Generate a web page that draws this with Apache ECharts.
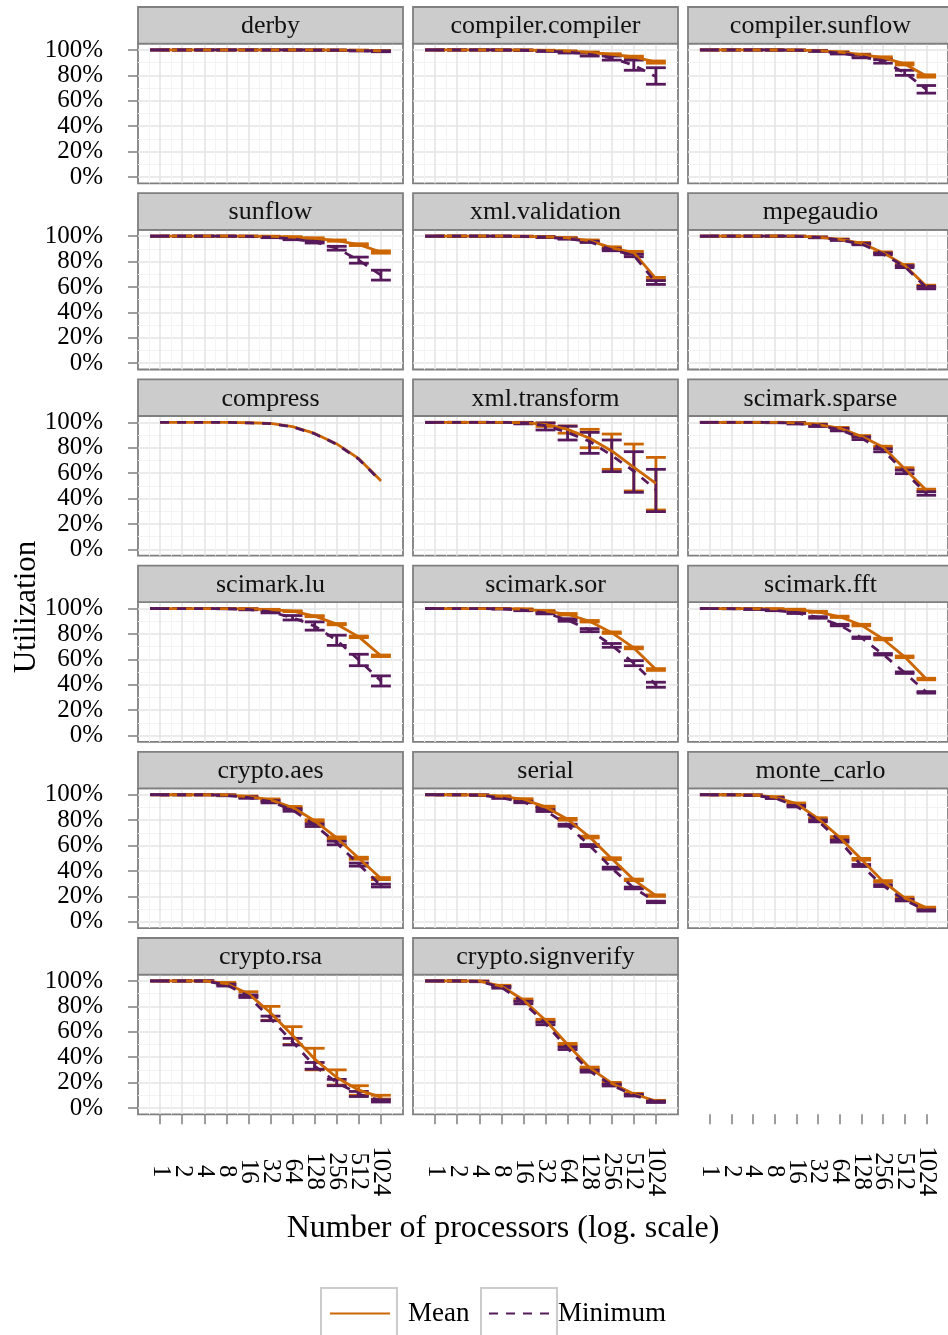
<!DOCTYPE html>
<html><head><meta charset="utf-8">
<script src="https://cdn.jsdelivr.net/npm/echarts@6/dist/echarts.min.js"></script>
<style>html,body{margin:0;padding:0;background:#fff}#c{width:948px;height:1335px}</style>
</head><body><div id="c"></div>
<script>
const benchmarks = ['derby','compiler.compiler','compiler.sunflow','sunflow','xml.validation','mpegaudio','compress','xml.transform','scimark.sparse','scimark.lu','scimark.sor','scimark.fft','crypto.aes','serial','monte_carlo','crypto.rsa','crypto.signverify'];
const processors = [1,2,4,8,16,32,64,128,256,512,1024];
const yTicks = [0,20,40,60,80,100];
const yMinorTicks = [10,30,50,70,90];

const meanValues = [
[100,100,100,100,100,100,100,100,99.9,99.7,99.3],
[100,100,100,100,99.9,99.6,99.0,98.0,96.5,94.5,90.5],
[100,100,100,100,99.9,99.5,98.3,96.3,94.0,89.0,79.5],
[100,100,100,100,100,99.8,99.3,98.3,96.5,93.3,87.5],
[100,100,100,100,99.9,99.5,98.6,96.5,90.8,87.0,66.5],
[100,100,100,100,100,99.2,97.5,94.5,87.0,77.0,60.5],
[100,100,100,100,99.7,99.2,96.6,91.3,83.0,71.4,54.0],
[100,100,100,100,99.8,98.4,94.5,87.5,77.5,64.5,52.0],
[100,100,100,100,99.6,98.3,95.5,89.0,80.5,63.5,46.5],
[100,100,100,100,99.8,99.2,97.9,94.0,87.7,77.7,62.8],
[100,100,100,100,99.5,98.0,95.5,90.0,81.0,69.0,52.0],
[100,100,99.9,99.7,99.2,97.4,93.5,87.0,76.0,62.0,44.5],
[100,100,100,99.8,98.5,96.0,90.0,79.5,66.0,50.0,34.0],
[100,100,99.8,98.7,96.4,90.4,80.7,66.7,49.7,33.0,20.6],
[100,100,99.8,98.2,93.0,81.3,66.4,49.2,31.8,18.8,11.0],
[100,100,100,98.0,90.0,75.0,57.0,38.5,24.0,14.0,8.5],
[100,100,99.8,96.0,85.0,69.0,50.0,31.5,19.5,11.0,5.5]
];
const N = null;
const meanLower = [
[100,100,100,100,100,100,99.9,99.8,99.7,99.5,99.0],
[100,100,100,100,99.8,99.4,98.7,97.6,96.0,93.8,89.6],
[100,100,100,100,99.8,99.3,98.0,95.9,93.4,88.2,78.6],
[100,100,100,100,99.9,99.6,99.0,97.9,96.0,92.6,86.6],
[100,100,100,100,99.8,99.3,98.3,96.0,90.0,86.0,65.5],
[100,100,100,100,99.9,99.0,97.2,94.0,86.4,76.3,59.6],
[N,N,N,N,N,N,N,N,N,N,N],
[100,100,100,99.9,99.3,96.8,91.5,80.0,63.0,46.0,31.0],
[100,100,100,99.9,99.3,97.8,95.0,88.4,79.8,62.7,45.6],
[100,100,100,100,99.7,99.0,97.6,93.6,87.2,77.1,62.2],
[100,100,100,99.9,99.2,97.5,94.9,89.4,80.4,68.3,51.3],
[100,100,99.8,99.5,98.9,97.0,93.0,86.4,75.4,61.4,43.9],
[100,100,100,99.6,98.0,95.3,89.2,78.7,65.2,49.2,33.2],
[100,100,99.7,98.3,95.9,89.8,80.0,66.0,49.0,32.4,20.0],
[100,100,99.7,97.9,92.5,80.7,65.7,48.5,31.2,18.2,10.5],
[100,100,100,97.0,88.0,69.0,50.0,30.0,18.0,10.0,7.0],
[100,100,99.6,95.4,84.2,68.2,49.2,30.8,18.9,10.5,5.0]
];
const meanUpper = [
[100,100,100,100,100,100,100,100,100,99.9,99.6],
[100,100,100,100,100,99.8,99.3,98.4,97.0,95.1,91.3],
[100,100,100,100,100,99.7,98.6,96.7,94.6,89.8,80.4],
[100,100,100,100,100,100,99.6,98.7,97.0,94.0,88.4],
[100,100,100,100,100,99.7,98.9,97.0,91.6,88.0,67.5],
[100,100,100,100,100,99.4,97.8,95.0,87.6,77.7,61.4],
[N,N,N,N,N,N,N,N,N,N,N],
[100,100,100,100,100,99.5,97.1,94.5,90.8,82.9,72.4],
[100,100,100,100,99.9,98.8,96.0,89.6,81.2,64.3,47.4],
[100,100,100,100,99.9,99.4,98.2,94.4,88.2,78.3,63.4],
[100,100,100,100,99.8,98.5,96.1,90.6,81.6,69.7,52.7],
[100,100,100,99.9,99.5,97.8,94.0,87.6,76.6,62.6,45.1],
[100,100,100,100,99.0,96.7,90.8,80.3,66.8,50.8,34.8],
[100,100,99.9,99.1,96.9,91.0,81.4,67.4,50.4,33.6,21.2],
[100,100,99.9,98.5,93.5,81.9,67.1,49.9,32.4,19.4,11.5],
[100,100,100,98.8,91.5,80.0,64.0,47.0,30.0,17.5,10.0],
[100,100,100,96.6,85.8,69.8,50.8,32.2,20.1,11.5,6.0]
];
const minValues = [
[100,100,100,100,100,100,100,99.9,99.8,99.5,99.0],
[100,100,100,100,99.7,99.2,98.3,96.5,93.5,88.0,79.0],
[100,100,100,100,99.8,99.2,97.5,95.0,91.0,82.0,69.0],
[100,100,100,100,99.8,99.2,97.8,95.5,90.5,81.0,69.3],
[100,100,100,100,99.8,99.2,98.0,95.5,89.3,84.8,63.5],
[100,100,100,100,99.9,99.0,97.0,93.8,86.0,76.0,59.5],
[100,100,100,100,99.6,99.0,96.4,91.0,82.7,71.0,53.6],
[100,100,100,100,99.6,97.5,92.0,85.0,74.0,61.5,47.0],
[100,100,100,99.9,99.2,97.5,94.3,87.5,78.0,61.0,44.0],
[100,100,100,99.9,99.3,97.4,92.8,86.2,75.0,59.5,43.0],
[100,100,100,99.8,98.7,96.5,91.0,83.0,71.0,57.0,40.0],
[100,99.9,99.5,98.7,96.6,93.0,87.0,77.0,64.0,49.5,34.0],
[100,100,100,99.5,97.8,94.5,88.0,76.0,62.0,45.0,28.5],
[100,100,99.7,97.6,94.3,87.5,76.0,60.0,42.2,26.6,15.6],
[100,100,99.6,97.4,91.0,79.4,63.5,44.3,28.4,17.0,8.9],
[100,100,100,97.0,88.0,70.5,52.0,33.0,20.0,11.0,5.6],
[100,100,99.6,95.0,83.0,66.5,47.0,29.0,18.0,10.0,4.8]
];
const minLower = [
[100,100,100,100,100,99.9,99.9,99.8,99.6,99.2,98.6],
[100,100,100,99.9,99.5,98.8,97.6,95.2,92.0,84.0,73.0],
[100,100,100,99.9,99.6,98.8,96.8,93.8,89.6,80.0,66.0],
[100,100,100,99.9,99.6,98.8,97.2,94.6,89.0,78.7,65.4],
[100,100,100,99.9,99.6,98.9,97.6,95.0,88.5,83.8,62.0],
[100,100,100,100,99.8,98.7,96.6,93.2,85.3,75.2,58.5],
[N,N,N,N,N,N,N,N,N,N,N],
[100,100,100,99.9,98.8,94.0,86.1,75.6,61.2,44.9,29.7],
[100,100,100,99.7,98.7,96.7,93.3,86.4,76.8,59.6,42.6],
[100,100,100,99.8,99.0,96.6,91.0,83.0,71.0,55.0,39.0],
[100,100,100,99.6,98.3,95.8,90.0,81.8,69.5,55.0,38.0],
[100,99.8,99.3,98.3,96.1,92.4,86.4,76.4,63.4,48.9,33.4],
[100,100,100,99.2,97.2,93.6,87.0,75.0,60.6,43.8,27.4],
[100,100,99.5,97.1,93.7,86.8,75.2,59.2,41.4,25.9,15.0],
[100,100,99.4,97.0,90.4,78.7,62.7,43.5,27.7,16.4,8.4],
[100,100,100,96.0,87.0,68.7,49.6,30.5,17.5,9.0,4.7],
[100,100,99.4,94.3,82.0,65.5,46.0,28.2,17.3,9.4,4.3]
];
const minUpper = [
[100,100,100,100,100,100,100,100,99.9,99.7,99.3],
[100,100,100,100,99.9,99.6,98.9,97.6,95.2,92.0,86.0],
[100,100,100,100,99.9,99.5,98.1,96.0,92.4,84.0,72.0],
[100,100,100,100,100,99.6,98.4,96.4,92.0,83.5,73.2],
[100,100,100,100,99.9,99.5,98.4,96.0,90.1,85.8,65.0],
[100,100,100,100,100,99.3,97.4,94.4,86.7,76.8,60.5],
[N,N,N,N,N,N,N,N,N,N,N],
[100,100,100,100,100,99.5,97.0,92.1,86.1,76.9,63.0],
[100,100,100,100,99.7,98.3,95.3,88.6,79.2,62.4,45.4],
[100,100,100,100,99.6,98.2,94.5,89.5,79.0,64.0,47.0],
[100,100,100,100,99.1,97.2,92.0,84.2,72.5,59.0,42.0],
[100,100,99.7,99.1,97.1,93.6,87.6,77.6,64.6,50.1,34.6],
[100,100,100,99.8,98.4,95.4,89.0,77.0,63.4,46.2,29.6],
[100,100,99.9,98.1,94.9,88.2,76.8,60.8,43.0,27.3,16.2],
[100,100,99.8,97.8,91.6,80.1,64.3,45.1,29.1,17.6,9.4],
[100,100,100,97.5,89.0,72.3,54.8,35.8,22.5,13.0,6.5],
[100,100,99.8,95.7,84.0,67.5,48.0,29.8,18.7,10.6,5.3]
];

const FONT = '"Liberation Serif", "DejaVu Serif", serif';
const ORANGE = '#CC6600', PURPLE = '#561A5C';
const BORDER = '#7F7F7F';
const LW = 2.8;
const colLeft = [138, 413, 688], panelW = 265;
const rowPitch = 186.2, stripH = 36.6, panelH = 139.7;
const stripTop = r => 7 + rowPitch * r;
const plotTop = r => 7 + stripH + rowPitch * r;
const xPos = processors.map(p => Math.log2(p));
const xEven = xPos.filter((v, k) => k % 2 === 0);
const xOdd = xPos.filter((v, k) => k % 2 === 1);

const grids = [], xAxes = [], xLabelAxes = [], yAxes = [], yMinorAxes = [], series = [], graphics = [];
const nPanels = benchmarks.length;
const labelFmt = v => { const k = xPos.indexOf(v); return k >= 0 ? String(processors[k]) : ''; };
for (let i = 0; i <= nPanels; i++) {
  const r = Math.floor(i / 3), c = i % 3;
  const real = i < nPanels;
  const isBottom = (i === 15 || i === 16 || i === 17);
  grids.push({left: colLeft[c], top: plotTop(r), width: panelW, height: panelH,
    show: real, borderColor: BORDER, borderWidth: 1.8, backgroundColor: '#fff', z: 0});
  xAxes.push({type: 'value', gridIndex: i, position: 'bottom', min: -1, max: 11, interval: 1, z: 2,
    axisLine: {show: false, onZero: false},
    axisTick: {show: false, customValues: xPos},
    axisLabel: {show: false},
    splitLine: {show: real, lineStyle: {color: '#E5E5E5', width: 1.6}},
    minorTick: {show: false, splitNumber: 2},
    minorSplitLine: {show: real, lineStyle: {color: '#F3F3F3', width: 1}}
  });
  if (isBottom) {
    [xEven, xOdd].forEach(vals => {
      xLabelAxes.push({type: 'value', gridIndex: i, position: 'bottom', offset: 0, min: -1, max: 11, interval: 1, z: 2,
        axisLine: {show: false, onZero: false},
        axisTick: {show: true, length: 10, customValues: vals, lineStyle: {color: BORDER, width: 1.5}},
        axisLabel: {show: true, customValues: vals, rotate: -90, align: 'center', verticalAlign: 'middle', margin: 57,
          showMinLabel: true, showMaxLabel: true, hideOverlap: false,
          fontFamily: FONT, fontSize: 25, color: '#000', formatter: labelFmt},
        splitLine: {show: false}, minorSplitLine: {show: false}
      });
    });
  }
  yMinorAxes.push({type: 'value', gridIndex: i, position: 'left', min: -5, max: 105, z: 1, show: real,
    axisLine: {show: false, onZero: false},
    axisTick: {show: false, customValues: yMinorTicks},
    axisLabel: {show: false},
    splitLine: {show: real, lineStyle: {color: '#F3F3F3', width: 1}}
  });
  yAxes.push({type: 'value', gridIndex: i, position: 'left', min: -5, max: 105, z: 2, show: real,
    axisLine: {show: false, onZero: false},
    axisTick: {show: c === 0, length: 10, customValues: yTicks, lineStyle: {color: BORDER, width: 1.5}},
    axisLabel: {show: c === 0, customValues: yTicks, formatter: '{value}%', margin: 35,
      showMinLabel: true, showMaxLabel: true,
      fontFamily: FONT, fontSize: 25, color: '#000'},
    splitLine: {show: real, lineStyle: {color: '#E5E5E5', width: 1.6}}
  });
  if (!real) continue;
  graphics.push({type: 'rect', shape: {x: colLeft[c], y: stripTop(r), width: panelW, height: stripH},
    style: {fill: '#CCCCCC', stroke: BORDER, lineWidth: 1.8}, z: 10});
  graphics.push({type: 'text', x: colLeft[c] + panelW / 2, y: stripTop(r) + stripH / 2 + 1, z: 11,
    style: {text: benchmarks[i], font: '26px ' + FONT, fill: '#111',
      textAlign: 'center', textVerticalAlign: 'middle', align: 'center', verticalAlign: 'middle'}});
}
const xAll = xAxes.concat(xLabelAxes);
const yAll = yMinorAxes.concat(yAxes);
const mainY = i => nPanels + 1 + i;

function errorBar(color) {
  return function (params, api) {
    const x = api.value(0), v1 = api.value(1), v2 = api.value(2);
    if (isNaN(v1) || isNaN(v2)) return null;
    const lo = api.coord([x, v1]);
    const hi = api.coord([x, v2]);
    const half = api.size([0.9, 0])[0] / 2;
    const st = {stroke: color, lineWidth: LW, fill: null};
    return {type: 'group', children: [
      {type: 'line', shape: {x1: lo[0], y1: lo[1], x2: hi[0], y2: hi[1]}, style: st},
      {type: 'line', shape: {x1: lo[0] - half, y1: lo[1], x2: lo[0] + half, y2: lo[1]}, style: st},
      {type: 'line', shape: {x1: hi[0] - half, y1: hi[1], x2: hi[0] + half, y2: hi[1]}, style: st}
    ]};
  };
}

for (let i = 0; i < nPanels; i++) {
  series.push({type: 'custom', name: 'Mean CI', xAxisIndex: i, yAxisIndex: mainY(i), z: 3, silent: true,
    renderItem: errorBar(ORANGE), data: xPos.map((x, k) => [x, meanLower[i][k], meanUpper[i][k]])});
  series.push({type: 'custom', name: 'Minimum CI', xAxisIndex: i, yAxisIndex: mainY(i), z: 4, silent: true,
    renderItem: errorBar(PURPLE), data: xPos.map((x, k) => [x, minLower[i][k], minUpper[i][k]])});
  series.push({type: 'line', name: 'Mean', xAxisIndex: i, yAxisIndex: mainY(i), z: 5, symbol: 'none', silent: true,
    color: ORANGE, lineStyle: {color: ORANGE, width: LW}, data: xPos.map((x, k) => [x, meanValues[i][k]])});
  series.push({type: 'line', name: 'Minimum', xAxisIndex: i, yAxisIndex: mainY(i), z: 6, symbol: 'none', silent: true,
    color: PURPLE, lineStyle: {color: PURPLE, width: LW, type: [9, 8]}, data: xPos.map((x, k) => [x, minValues[i][k]])});
}

graphics.push({type: 'text', x: 503, y: 1229, z: 11,
  style: {text: 'Number of processors (log. scale)', font: '32px ' + FONT, fill: '#000',
    textAlign: 'center', textVerticalAlign: 'middle', align: 'center', verticalAlign: 'middle'}});
graphics.push({type: 'text', x: 27, y: 607, rotation: Math.PI / 2, z: 11,
  style: {text: 'Utilization', font: '31px ' + FONT, fill: '#000',
    textAlign: 'center', textVerticalAlign: 'middle', align: 'center', verticalAlign: 'middle'}});
graphics.push({type: 'rect', shape: {x: 321, y: 1288, width: 76, height: 60}, style: {fill: '#fff', stroke: '#CCCCCC', lineWidth: 2}, z: 0});
graphics.push({type: 'rect', shape: {x: 481, y: 1288, width: 76, height: 60}, style: {fill: '#fff', stroke: '#CCCCCC', lineWidth: 2}, z: 0});

const legendBase = {top: 1300, itemWidth: 60, itemHeight: 24, padding: 0, selectedMode: false, z: 20,
  itemStyle: {opacity: 0, borderWidth: 0}};
const option = {
  animation: false,
  backgroundColor: '#fff',
  grid: grids,
  xAxis: xAll,
  yAxis: yAll,
  series: series,
  graphic: {elements: graphics},
  legend: [
    Object.assign({}, legendBase, {data: ['Mean'], left: 329,
      textStyle: {fontFamily: FONT, fontSize: 27, color: '#000', padding: [0, 0, 0, 13]}}),
    Object.assign({}, legendBase, {data: ['Minimum'], left: 488,
      textStyle: {fontFamily: FONT, fontSize: 27, color: '#000', padding: [0, 0, 0, 4]}})
  ]
};
const chart = echarts.init(document.getElementById('c'));
chart.setOption(option);
</script></body></html>
